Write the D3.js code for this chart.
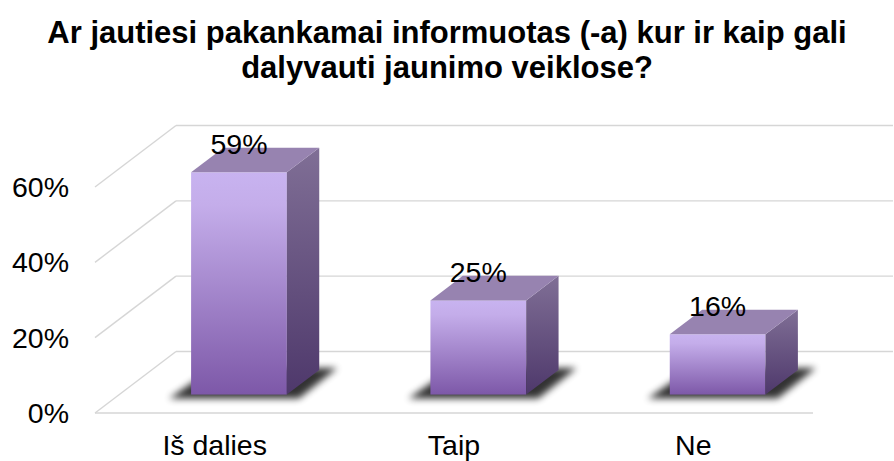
<!DOCTYPE html>
<html>
<head>
<meta charset="utf-8">
<script src="https://cdn.jsdelivr.net/npm/d3@7"></script>
<style>
  body { margin: 0; background: #fff; }
  svg { display: block; font-family: "Liberation Sans", Arial, sans-serif; }
</style>
</head>
<body>
<div id="chart"></div>
<script>
// chart data
var categories = ["Iš dalies", "Taip", "Ne"];
var values = [59, 25, 16];
var yTicks = [0, 20, 40, 60];
var titleLines = ["Ar jautiesi pakankamai informuotas (-a) kur ir kaip gali", "dalyvauti jaunimo veiklose?"];

var svgwidth = 894;
var svgheight = 461;

var svg = d3.select("#chart")
  .append("svg")
  .attr("width", svgwidth)
  .attr("height", svgheight);

var defs = svg.append("defs");

var frontGrad = defs.append("linearGradient")
  .attr("id", "frontGrad")
  .attr("x1", 0).attr("y1", 0).attr("x2", 0).attr("y2", 1);
frontGrad.append("stop").attr("offset", "0%").attr("stop-color", "#c8b3f0");
frontGrad.append("stop").attr("offset", "15%").attr("stop-color", "#c4adea");
frontGrad.append("stop").attr("offset", "100%").attr("stop-color", "#7d58a8");

var sideGrad = defs.append("linearGradient")
  .attr("id", "sideGrad")
  .attr("x1", 0).attr("y1", 0).attr("x2", 0).attr("y2", 1);
sideGrad.append("stop").attr("offset", "0%").attr("stop-color", "#806f96");
sideGrad.append("stop").attr("offset", "100%").attr("stop-color", "#4e386b");

defs.append("filter")
  .attr("id", "blur")
  .attr("x", "-30%").attr("y", "-50%").attr("width", "160%").attr("height", "200%")
  .append("feGaussianBlur")
  .attr("stdDeviation", 3.5);

// 3d geometry: front plane + depth offset
var depth = { x: 81, y: -61.5 };
var barFront = 0.3, barBack = 0.7;

var xscale = d3.scaleBand()
  .domain(categories)
  .range([95, 813])
  .padding(0);

var yscale = d3.scaleLinear()
  .domain([0, 60])
  .range([413, 187]);

var barWidth = xscale.bandwidth() * 0.4;

// title
svg.append("text")
  .attr("text-anchor", "middle")
  .attr("font-weight", "bold")
  .attr("font-size", "31px")
  .attr("fill", "#000")
  .selectAll("tspan")
  .data(titleLines)
  .enter()
  .append("tspan")
  .attr("x", 447)
  .attr("y", (d, i) => 43 + i * 35)
  .text(d => d);

// grid: side wall diagonals + back wall lines
var grid = svg.append("g")
  .attr("stroke", "#d6d6d6")
  .attr("stroke-width", 1.4)
  .attr("fill", "none");

grid.selectAll(".diag")
  .data(yTicks)
  .enter()
  .append("line")
  .attr("x1", 95)
  .attr("y1", d => yscale(d))
  .attr("x2", 95 + depth.x)
  .attr("y2", d => yscale(d) + depth.y);

grid.selectAll(".back")
  .data(yTicks)
  .enter()
  .append("line")
  .attr("x1", 95 + depth.x)
  .attr("y1", d => yscale(d) + depth.y)
  .attr("x2", 893)
  .attr("y2", d => yscale(d) + depth.y);

grid.append("line")
  .attr("x1", 95)
  .attr("y1", yscale(0))
  .attr("x2", 813)
  .attr("y2", yscale(0));

// y axis labels
svg.append("g")
  .selectAll("text")
  .data(yTicks)
  .enter()
  .append("text")
  .attr("x", 69)
  .attr("y", d => yscale(d))
  .attr("dy", "0.35em")
  .attr("text-anchor", "end")
  .attr("font-size", "28.5px")
  .attr("fill", "#000")
  .text(d => d + "%");

// category labels
svg.append("g")
  .selectAll("text")
  .data(categories)
  .enter()
  .append("text")
  .attr("x", d => xscale(d) + xscale.bandwidth() / 2)
  .attr("y", 455)
  .attr("text-anchor", "middle")
  .attr("font-size", "28.5px")
  .attr("fill", "#000")
  .text(d => d);

var data = categories.map((c, i) => ({ cat: c, value: values[i] }));

function bx(d) {
  return xscale(d.cat) + (xscale.bandwidth() - barWidth) / 2 + depth.x * barFront;
}
var by0 = yscale(0) + depth.y * barFront;
var bdx = depth.x * (barBack - barFront);
var bdy = depth.y * (barBack - barFront);
var h = d => yscale(0) - yscale(d.value);

var bars = svg.append("g")
  .selectAll("g")
  .data(data)
  .enter()
  .append("g");

// shadow on the floor
bars.append("path")
  .attr("d", d => {
    var x = bx(d);
    return "M" + (x - 22) + "," + (by0 + 4) +
      "L" + (x + barWidth + 12) + "," + (by0 + 4) +
      "L" + (x + barWidth + bdx + 18) + "," + (by0 + bdy - 2) +
      "L" + (x + bdx - 10) + "," + (by0 + bdy - 2) + "Z";
  })
  .attr("fill", "#000")
  .attr("opacity", 0.8)
  .attr("filter", "url(#blur)");

// front face
bars.append("rect")
  .attr("x", d => bx(d))
  .attr("y", d => by0 - h(d))
  .attr("width", barWidth)
  .attr("height", d => h(d))
  .attr("fill", "url(#frontGrad)");

// side face
bars.append("path")
  .attr("d", d => {
    var x = bx(d) + barWidth, top = by0 - h(d);
    return "M" + x + "," + top + "L" + (x + bdx) + "," + (top + bdy) +
      "L" + (x + bdx) + "," + (by0 + bdy) + "L" + x + "," + by0 + "Z";
  })
  .attr("fill", "url(#sideGrad)");

// top face
bars.append("path")
  .attr("d", d => {
    var x = bx(d), top = by0 - h(d);
    return "M" + x + "," + top + "L" + (x + barWidth) + "," + top +
      "L" + (x + barWidth + bdx) + "," + (top + bdy) + "L" + (x + bdx) + "," + (top + bdy) + "Z";
  })
  .attr("fill", "#9783b0");

// value labels
bars.append("text")
  .attr("x", d => bx(d) + barWidth / 2)
  .attr("y", d => by0 - h(d) - 18)
  .attr("text-anchor", "middle")
  .attr("font-size", "28.5px")
  .attr("fill", "#000")
  .text(d => d.value + "%");
</script>
</body>
</html>
